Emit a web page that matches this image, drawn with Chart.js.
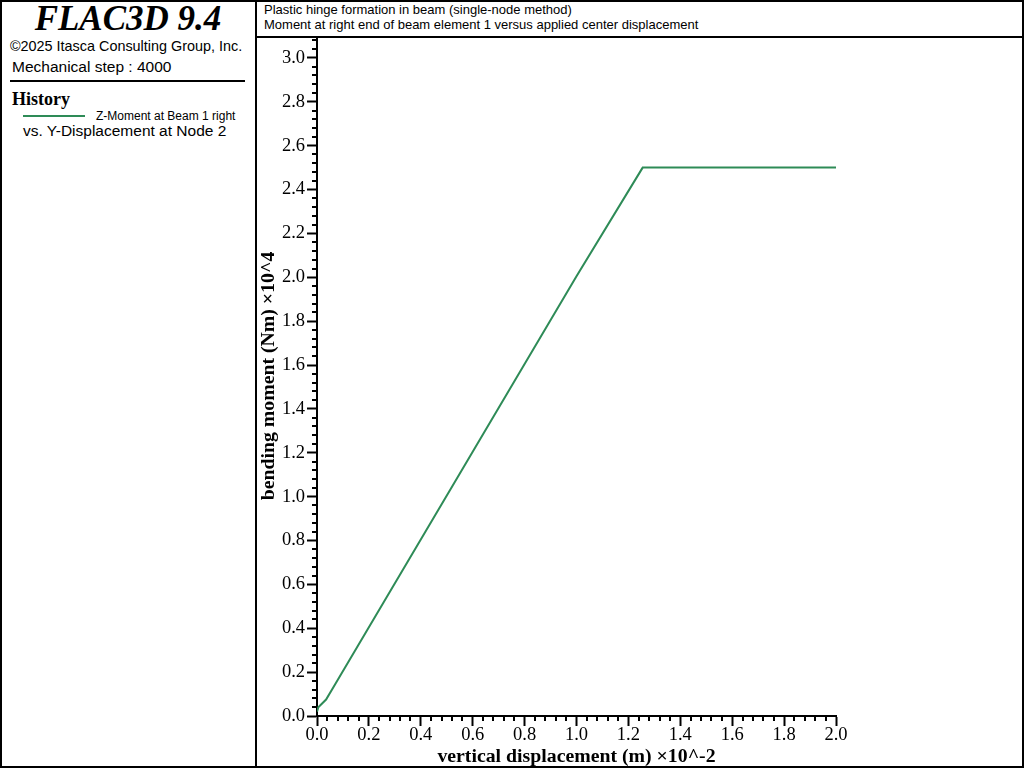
<!DOCTYPE html>
<html>
<head>
<meta charset="utf-8">
<script src="https://cdn.jsdelivr.net/npm/chart.js@4.4.1/dist/chart.umd.min.js"></script>
<style>
  body { margin: 0; background: #fff; }
  #page { position: relative; width: 1024px; height: 768px; overflow: hidden; background: #fff; }
  .frame { position: absolute; left: 0; top: 0; width: 1024px; height: 768px; box-sizing: border-box; border: 2px solid #000; }
  .vline { position: absolute; left: 255px; top: 0; width: 2px; height: 768px; background: #000; }
  .hline { position: absolute; left: 256px; top: 36px; width: 768px; height: 2px; background: #000; }
  .sep { position: absolute; left: 10px; top: 80px; width: 235px; height: 2px; background: #000; }
  .txt { position: absolute; white-space: nowrap; color: #000; }
  .sans { font-family: "Liberation Sans", Arial, sans-serif; }
  .serif { font-family: "Liberation Serif", "Times New Roman", serif; }
  #plot { position: absolute; left: 256px; top: 36px; }
</style>
</head>
<body>
<div id="page">
  <div class="txt serif" style="left:0;width:256px;text-align:center;top:0;font-size:35px;line-height:38px;font-weight:bold;font-style:italic;">FLAC3D 9.4</div>
  <div class="txt sans" style="left:10px;top:38px;font-size:14.4px;line-height:16px;">©2025 Itasca Consulting Group, Inc.</div>
  <div class="txt sans" style="left:12px;top:58px;font-size:15.5px;line-height:18px;">Mechanical step : 4000</div>
  <div class="sep"></div>
  <div class="txt serif" style="left:12px;top:89px;font-size:18px;line-height:20px;font-weight:bold;">History</div>
  <div style="position:absolute;left:23px;top:115px;width:62px;height:2px;background:#2e8b57;"></div>
  <div class="txt sans" style="left:96px;top:109px;font-size:12px;line-height:14px;">Z-Moment at Beam 1 right</div>
  <div class="txt sans" style="left:23px;top:122px;font-size:15.5px;line-height:18px;">vs. Y-Displacement at Node 2</div>

  <div class="txt sans" style="left:264px;top:3px;font-size:13px;line-height:14px;">Plastic hinge formation in beam (single-node method)</div>
  <div class="txt sans" style="left:264px;top:18px;font-size:13px;line-height:14px;">Moment at right end of beam element 1 versus applied center displacement</div>

  <canvas id="plot" width="766" height="733"></canvas>
  <div class="vline"></div>
  <div class="hline"></div>
  <div class="frame"></div>
</div>
<script>
// vertical displacement (x10^-2 m) and bending moment (x10^4 Nm)
const displacement = [0.0, 0.005, 0.035, 0.07, 0.60, 1.00, 1.255, 1.60, 2.0];
const moment = [0.02, 0.04, 0.075, 0.145, 1.205, 2.005, 2.50, 2.50, 2.50];

const xTicks = [0.0, 0.2, 0.4, 0.6, 0.8, 1.0, 1.2, 1.4, 1.6, 1.8, 2.0];
const yTicks = [0.0, 0.2, 0.4, 0.6, 0.8, 1.0, 1.2, 1.4, 1.6, 1.8, 2.0, 2.2, 2.4, 2.6, 2.8, 3.0];
const minorStep = 0.04;

const tickFont = { family: '"Liberation Serif", "Times New Roman", serif', size: 18.5 };
const titleFont = { family: '"Liberation Serif", "Times New Roman", serif', size: 19.8, weight: 'bold' };

// small ticks between the labelled ones
const minorTicks = {
    id: 'minorTicks',
    afterDraw(chart) {
        const ctx = chart.ctx;
        const xs = chart.scales.x, ys = chart.scales.y;
        const area = chart.chartArea;
        ctx.save();
        ctx.strokeStyle = '#000';
        ctx.lineWidth = 2;
        ctx.beginPath();
        for (let i = 0; i * minorStep <= xs.max + 1e-9; i++) {
            if (i % 5 === 0) continue;
            const px = Math.round(xs.getPixelForValue(i * minorStep));
            ctx.moveTo(px, area.bottom);
            ctx.lineTo(px, area.bottom + 5);
        }
        for (let i = 0; i * minorStep <= ys.max + 1e-9; i++) {
            if (i % 5 === 0) continue;
            const py = Math.round(ys.getPixelForValue(i * minorStep));
            ctx.moveTo(area.left, py);
            ctx.lineTo(area.left - 5, py);
        }
        ctx.stroke();
        ctx.restore();
    }
};

new Chart(document.getElementById('plot'), {
    type: 'line',
    data: {
        datasets: [{
            label: 'Z-Moment at Beam 1 right',
            data: displacement.map((d, i) => ({ x: d, y: moment[i] })),
            borderColor: '#2e8b57',
            borderWidth: 2,
            pointRadius: 0,
            fill: false,
            tension: 0
        }]
    },
    options: {
        responsive: false,
        animation: false,
        layout: { padding: { left: 0, top: 0, right: 186, bottom: 0 } },
        plugins: {
            legend: { display: false },
            tooltip: { enabled: false }
        },
        scales: {
            x: {
                type: 'linear',
                min: 0,
                max: 2.0,
                afterBuildTicks: s => { s.ticks = xTicks.map(v => ({ value: v })); },
                afterFit: s => { s.height = 53; s.paddingLeft = 0; s.paddingRight = 0; },
                ticks: { font: tickFont, color: '#000', padding: -2, maxRotation: 0, callback: v => v.toFixed(1) },
                grid: { drawOnChartArea: false, tickLength: 10, tickWidth: 2, tickColor: '#000' },
                border: { display: true, color: '#000', width: 2 },
                title: { display: true, text: 'vertical displacement (m) ×10^-2', font: titleFont, color: '#000', padding: { top: 0, bottom: 0 } }
            },
            y: {
                type: 'linear',
                min: 0,
                max: 3.1,
                afterBuildTicks: s => { s.ticks = yTicks.map(v => ({ value: v })); },
                afterFit: s => { s.width = 61; s.paddingTop = 0; s.paddingBottom = 0; },
                ticks: { font: tickFont, color: '#000', padding: 2, callback: v => v.toFixed(1) },
                grid: { drawOnChartArea: false, tickLength: 10, tickWidth: 2, tickColor: '#000' },
                border: { display: true, color: '#000', width: 2 },
                title: { display: true, text: 'bending moment (Nm) ×10^4', font: titleFont, color: '#000', padding: { top: 1, bottom: 0 } }
            }
        }
    },
    plugins: [minorTicks]
});
</script>
</body>
</html>
